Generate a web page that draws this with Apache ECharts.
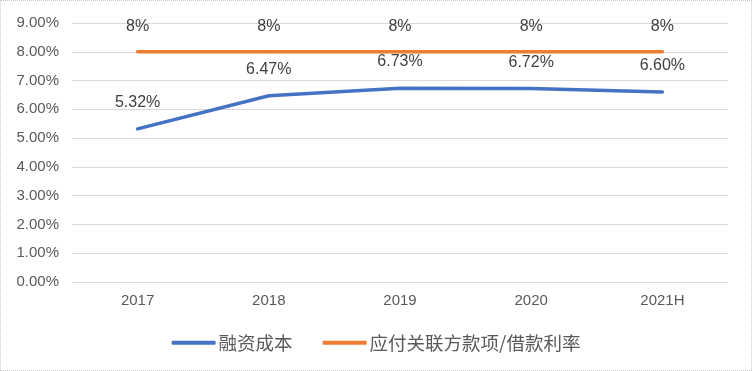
<!DOCTYPE html>
<html><head><meta charset="utf-8">
<script src="https://cdn.jsdelivr.net/npm/echarts@6/dist/echarts.min.js"></script>
<style>html,body{margin:0;padding:0;background:#fff}#c{width:752px;height:371px;box-sizing:border-box;border:1px dotted #c8c8c8}</style>
</head><body><div id="c"></div>
<script>
const categories = ['2017','2018','2019','2020','2021H'];
const financingCost = [5.32, 6.47, 6.73, 6.72, 6.60];
const relatedRate = [8, 8, 8, 8, 8];
const seriesNames = ['融资成本','应付关联方款项/借款利率'];
const chart = echarts.init(document.getElementById('c'));
const font = "'Liberation Sans', 'Noto Sans CJK SC', sans-serif";
chart.setOption({
  animation:false,
  grid:{left:71, right:23, top:22, bottom:88},
  legend:{bottom:13, left:'center', itemWidth:44, itemHeight:4, itemGap:30,
    icon:'roundRect',
    textStyle:{color:'#595959', fontSize:18.5, fontFamily:"'Noto Sans CJK SC', sans-serif", padding:[0,0,0,-2]},
    data:seriesNames},
  xAxis:{type:'category', data:categories, boundaryGap:true,
    axisLine:{show:false}, axisTick:{show:false},
    axisLabel:{color:'#595959', fontSize:15, fontFamily:font, margin:11}},
  yAxis:{type:'value', min:0, max:9, interval:1,
    axisLabel:{color:'#595959', fontSize:15, fontFamily:font, margin:13, formatter:v=>v.toFixed(2)+'%'},
    splitLine:{lineStyle:{color:'#d9d9d9', width:1.2}}},
  series:[
    {name:seriesNames[0], type:'line', data:financingCost, showSymbol:true, symbol:'circle', symbolSize:0.5,
      lineStyle:{color:'#4472C4', width:3.5, cap:'round'}, itemStyle:{color:'#4472C4'},
      label:{show:true, position:'top', distance:18, color:'#404040', fontSize:16, fontFamily:font, formatter:p=>p.value.toFixed(2)+'%'}},
    {name:seriesNames[1], type:'line', data:relatedRate, showSymbol:true, symbol:'circle', symbolSize:0.5,
      lineStyle:{color:'#ED7D31', width:3.5, cap:'round'}, itemStyle:{color:'#ED7D31'},
      label:{show:true, position:'top', distance:17, color:'#404040', fontSize:16, fontFamily:font, formatter:p=>p.value+'%'}}
  ]
});
</script></body></html>
